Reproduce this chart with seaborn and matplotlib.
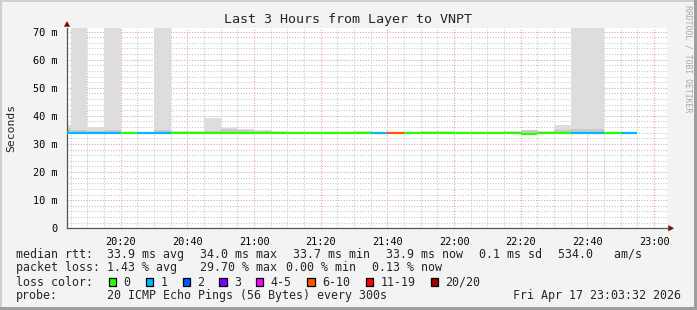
import matplotlib
matplotlib.use("Agg")
import matplotlib.pyplot as plt
from matplotlib.patches import Rectangle, Polygon
import seaborn as sns
import numpy as np

# ---------------- data ----------------
interval_start = ["20:00", "20:05", "20:10", "20:15", "20:20", "20:25", "20:30",
                  "20:35", "20:40", "20:45", "20:50", "20:55", "21:00", "21:05",
                  "21:10", "21:15", "21:20", "21:25", "21:30", "21:35", "21:40",
                  "21:45", "21:50", "21:55", "22:00", "22:05", "22:10", "22:15",
                  "22:20", "22:25", "22:30", "22:35", "22:40", "22:45", "22:50"]
median_ms = [34.0, 34.0, 34.0, 34.0, 34.0, 34.0, 34.0, 34.0, 34.0, 34.0, 34.0,
             34.0, 34.0, 33.9, 33.9, 33.9, 33.9, 33.9, 34.0, 34.0, 33.9, 33.9,
             34.0, 34.0, 33.9, 33.9, 33.9, 33.9, 33.7, 33.9, 33.9, 34.0, 34.0,
             33.9, 33.9]
loss_count = [1, 1, 1, 1, 0, 1, 1, 0, 0, 0, 0, 0, 0, 0, 0, 0, 0, 0, 0, 1, 6,
              0, 0, 0, 0, 0, 0, 0, 0, 0, 0, 1, 1, 0, 1]
smoke_top = [36.8, 85.0, 36.1, 85.0, 34.3, 34.3, 85.0, 34.6, 34.6, 39.3, 35.8,
             35.4, 35.0, 34.6, 34.2, 34.2, 34.2, 34.2, 34.6, 34.2, 34.2, 34.2,
             34.6, 34.6, 34.2, 34.2, 34.2, 34.6, 35.1, 34.6, 36.9, 85.0, 85.0,
             34.2, 34.2]
smoke_core = [35.6, 34.8, 34.7, 34.8, 34.2, 34.2, 34.8, 34.4, 34.4, 34.6, 35.5,
              35.0, 34.6, 34.4, 34.1, 34.1, 34.1, 34.1, 34.4, 34.1, 34.1, 34.1,
              34.4, 34.4, 34.1, 34.1, 34.1, 34.4, 34.8, 34.4, 35.0, 35.4, 35.4,
              34.1, 34.1]
smoke_bottom = [33.7] * 35

y_ticks = [0, 10, 20, 30, 40, 50, 60, 70]
y_tick_labels = ["0", "10 m", "20 m", "30 m", "40 m", "50 m", "60 m", "70 m"]
x_tick_labels = ["20:20", "20:40", "21:00", "21:20", "21:40", "22:00",
                 "22:20", "22:40", "23:00"]

loss_legend = ["0", "1", "2", "3", "4-5", "6-10", "11-19", "20/20"]
loss_colors = ["#26ff00", "#00b8ff", "#0059ff", "#7e00ff", "#ff00ff",
               "#ff5500", "#ff0000", "#a10000"]
loss_upper = [0, 1, 2, 3, 5, 10, 19, 20]

title = "Last 3 Hours from Layer to VNPT"
stats_rows = [
    [("median rtt:", 16), ("33.9 ms avg", 107), ("34.0 ms max", 200),
     ("33.7 ms min", 293), ("33.9 ms now", 386), ("0.1 ms sd", 479),
     ("534.0   am/s", 558)],
    [("packet loss:", 16), ("1.43 % avg", 107), ("29.70 % max", 200),
     ("0.00 % min", 286.5), ("0.13 % now", 372.5)],
]
probe_text = "20 ICMP Echo Pings (56 Bytes) every 300s"
date_text = "Fri Apr 17 23:03:32 2026"

# ---------------- helpers ----------------
def to_min(s):
    h, m = s.split(":")
    return (int(h) - 20) * 60 + int(m)

def loss_color(n):
    for up, c in zip(loss_upper, loss_colors):
        if n <= up:
            return c
    return loss_colors[-1]

W, H = 697, 310
def fx(x):
    return x / W
def fy(y):
    return 1 - y / H

sns.set_style("white")
plt.rcParams["font.family"] = ["DejaVu Sans Mono"]

fig = plt.figure(figsize=(W / 100, H / 100), dpi=100)
fig.patch.set_facecolor("#f3f3f3")

left, right, top, bottom = 67, 667, 28.3, 228.3
ax = fig.add_axes([fx(left), fy(bottom), (right - left) / W, (bottom - top) / H])
ax.set_facecolor("white")

x0 = np.array([to_min(s) for s in interval_start], dtype=float)
width = 5.0

# smoke
ax.bar(x0, np.array(smoke_top) - np.array(smoke_bottom), bottom=smoke_bottom,
       width=width, align="edge", color="#dddddd", linewidth=0, zorder=2)
ax.bar(x0, np.array(smoke_core) - np.array(smoke_bottom), bottom=smoke_bottom,
       width=width, align="edge", color="#c9c9c9", linewidth=0, zorder=2.1)

# median line colored by loss
cols = [loss_color(n) for n in loss_count]
ax.hlines(median_ms, x0, x0 + width, colors=cols, linewidth=1.6, zorder=3,
          capstyle="butt")

ax.set_xlim(3.9, 183.9)
ax.set_ylim(0, 71.15)

ax.set_xticks([to_min(s) for s in x_tick_labels])
ax.set_xticklabels(x_tick_labels)
ax.set_xticks(np.arange(5, 185, 5), minor=True)
ax.set_yticks(y_ticks)
ax.set_yticklabels(y_tick_labels)
ax.set_yticks(np.arange(0, 71, 2), minor=True)

ax.grid(which="minor", color="#c4c4c4", linestyle=(0, (1, 1.6)), linewidth=0.75)
ax.grid(which="major", color="#eb9a9a", linestyle=(0, (1, 1.6)), linewidth=0.75)
ax.set_axisbelow(True)

ax.tick_params(axis="both", which="major", labelsize=7.4, colors="#000000",
               length=2.5, width=0.8, direction="out")
ax.tick_params(axis="x", which="major", pad=4)
ax.tick_params(axis="y", which="major", pad=4)
ax.tick_params(axis="both", which="minor", length=0)

for s in ["top", "right"]:
    ax.spines[s].set_visible(False)
for s in ["left", "bottom"]:
    ax.spines[s].set_color("#555555")
    ax.spines[s].set_linewidth(0.9)

# arrows
def poly(pts, color):
    fig.add_artist(Polygon([(fx(x), fy(y)) for x, y in pts], closed=True,
                           facecolor=color, edgecolor=color, linewidth=0.3,
                           transform=fig.transFigure))
poly([(64.3, 26.5), (69.7, 26.5), (67, 21.5)], "#7f0000")
poly([(668.5, 225.5), (668.5, 231), (673.5, 228.3)], "#7f0000")
fig.add_artist(plt.Line2D([fx(667), fx(669)], [fy(228.3), fy(228.3)],
                          color="#555555", linewidth=0.9))

# title & labels
fig.text(fx(348.5), fy(19), title, ha="center", va="center", fontsize=9.6)
fig.text(fx(11), fy(128), "Seconds", rotation=90, ha="center", va="center",
         fontsize=8.2)
fig.text(fx(688), fy(5), "RRDTOOL / TOBI OETIKER", rotation=270, ha="center",
         va="top", fontsize=5.9, color="#a8a8a8")

# stats
row_y = [254.3, 267.7, 282.3, 295.7]
fs = 8.4
for r, row in enumerate(stats_rows):
    for txt, x in row:
        fig.text(fx(x), fy(row_y[r]), txt, ha="left", va="center", fontsize=fs)

fig.text(fx(16), fy(row_y[2]), "loss color:", ha="left", va="center", fontsize=fs)
box_x = [108.7, 145.7, 182.7, 219.3, 256.0, 307.3, 365.7, 430.7]
for bx, lab, c in zip(box_x, loss_legend, loss_colors):
    fig.add_artist(Rectangle((fx(bx), fy(row_y[2] + 4)), 7.4 / W, 8 / H,
                             facecolor=c, edgecolor="black", linewidth=0.9,
                             transform=fig.transFigure))
    fig.text(fx(bx + 14.5), fy(row_y[2]), lab, ha="left", va="center", fontsize=fs)

fig.text(fx(16), fy(row_y[3]), "probe:", ha="left", va="center", fontsize=fs)
fig.text(fx(107), fy(row_y[3]), probe_text, ha="left", va="center", fontsize=fs)
fig.text(fx(513.3), fy(row_y[3]), date_text, ha="left", va="center", fontsize=fs)

# 3D frame
fig.add_artist(Rectangle((0, fy(2)), 1, 2 / H, facecolor="#cfcfcf",
                         edgecolor="none", transform=fig.transFigure))
fig.add_artist(Rectangle((0, 0), 2 / W, 1, facecolor="#cfcfcf",
                         edgecolor="none", transform=fig.transFigure))
fig.add_artist(Rectangle((0, 0), 1, 3 / H, facecolor="#9e9e9e",
                         edgecolor="none", transform=fig.transFigure))
fig.add_artist(Rectangle((fx(694), 0), 3 / W, 1, facecolor="#9e9e9e",
                         edgecolor="none", transform=fig.transFigure))

fig.savefig("out.png", dpi=100, facecolor=fig.get_facecolor())
